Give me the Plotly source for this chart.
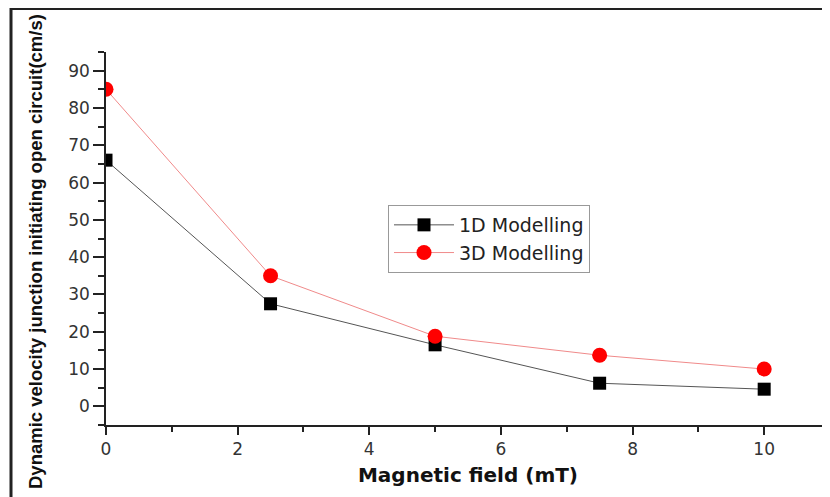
import plotly.graph_objects as go

field_mT = [0, 2.5, 5, 7.5, 10]
vel_1d = [66, 27.5, 16.5, 6.2, 4.6]
vel_3d = [85, 35, 18.8, 13.7, 10]
x_ticks = [0, 2, 4, 6, 8, 10]
y_ticks = [0, 10, 20, 30, 40, 50, 60, 70, 80, 90]

# the page body adds an 8 px offset; positions below are in screen pixels
OFF = 8
W, H = 830, 497
S_LEFT, S_RIGHT, S_TOP, S_BOTTOM = 106, 830, 52, 425
ML = S_LEFT - OFF
MT = S_TOP - OFF
MR = W - (S_RIGHT - OFF)
MB = H - (S_BOTTOM - OFF)
PW, PH = S_RIGHT - S_LEFT, S_BOTTOM - S_TOP

def px(X):
    return (X - S_LEFT) / PW

def py(Y):
    return (S_BOTTOM - Y) / PH

fig = go.Figure()
fig.add_trace(go.Scatter(
    x=field_mT, y=vel_1d, mode="lines+markers", name="1D Modelling",
    line=dict(color="#555555", width=1),
    marker=dict(symbol="square", size=13, color="black"),
))
fig.add_trace(go.Scatter(
    x=field_mT, y=vel_3d, mode="lines+markers", name="3D Modelling",
    line=dict(color="#f08a8a", width=1),
    marker=dict(symbol="circle", size=15, color="#ff0000"),
))

tickfont = dict(family="DejaVu Sans, Arial", size=17, color="#333333")
fig.update_layout(
    width=W, height=H,
    margin=dict(l=ML, r=MR, t=MT, b=MB, autoexpand=False),
    paper_bgcolor="white", plot_bgcolor="white",
    showlegend=True,
    legend=dict(
        x=px(388), y=py(205), xanchor="left", yanchor="top",
        bordercolor="#999999", borderwidth=1, bgcolor="white",
        font=dict(family="DejaVu Sans, Arial", size=19, color="#222222"),
        tracegroupgap=0, itemwidth=60,
    ),
    xaxis=dict(
        range=[0, 11], tickvals=x_ticks, showgrid=False, zeroline=False,
        showline=True, linecolor="#222222", linewidth=1.5,
        ticks="outside", ticklen=8, tickwidth=1.5, tickcolor="#222222",
        minor=dict(dtick=1, ticks="outside", ticklen=5, tickwidth=1.5, tickcolor="#222222"),
        tickfont=tickfont, automargin=False,
        title=dict(text="<b>Magnetic field (mT)</b>", standoff=10,
                   font=dict(family="DejaVu Sans, Arial", size=20, color="#111111")),
    ),
    yaxis=dict(
        range=[-5, 95], tickvals=y_ticks, showgrid=False, zeroline=False,
        showline=True, linecolor="#222222", linewidth=1.5,
        ticks="outside", ticklen=11, tickwidth=1.5, tickcolor="#222222",
        minor=dict(dtick=5, ticks="outside", ticklen=6, tickwidth=1.5, tickcolor="#222222"),
        tickfont=tickfont, automargin=False,
    ),
    annotations=[dict(
        text="<b>Dynamic velocity junction initiating open circuit(cm/s)</b>",
        xref="paper", yref="paper", x=px(35), y=py(252),
        textangle=-90, showarrow=False, xanchor="center", yanchor="middle",
        font=dict(family="Liberation Sans, Arial", size=18.5, color="#111111"),
    )],
    shapes=[
        dict(type="line", xref="paper", yref="paper", x0=px(10), x1=px(840), y0=py(8.5), y1=py(8.5),
             line=dict(color="#222222", width=3)),
        dict(type="line", xref="paper", yref="paper", x0=px(11), x1=px(11), y0=py(8), y1=py(505),
             line=dict(color="#222222", width=3)),
    ],
)

fig.write_html("out.html")
